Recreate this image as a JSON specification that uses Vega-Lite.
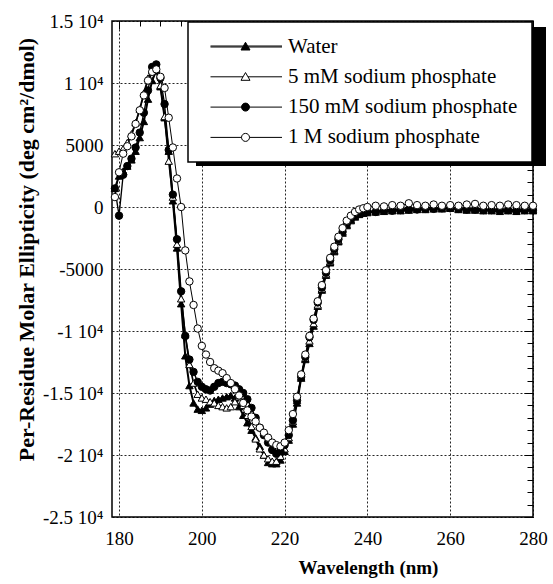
{
"$schema":"https://vega.github.io/schema/vega-lite/v6.json",
"autosize":{"type":"none"},
"padding":{"left":112,"top":21,"right":20,"bottom":67},
"width":421,"height":496,
"background":"white",
"config":{
 "view":{"stroke":"black","strokeWidth":1.5},
 "font":"Liberation Serif",
 "axis":{"labelFont":"Liberation Serif","titleFont":"Liberation Serif","labelColor":"black","titleColor":"black","domain":false,"tickColor":"black","tickWidth":1,"gridColor":"black","gridDash":[2,2],"gridWidth":1,"gridOpacity":0.85,"labelFlush":false,"labelOverlap":false},
 "legend":{"labelFont":"Liberation Serif","labelFontSize":21,"labelColor":"black","fillColor":"white","strokeColor":"black","strokeWidth":1.5,"padding":14,"symbolSize":100,"symbolStrokeWidth":1,"symbolStrokeColor":"black","symbolOffset":33,"labelOffset":32,"rowPadding":8.3,"labelLimit":400}
},
"data":{"values":[
{"s":"Water","x":179,"y":1500},{"s":"Water","x":180,"y":2500},{"s":"Water","x":181,"y":2900},{"s":"Water","x":182,"y":3300},{"s":"Water","x":183,"y":3800},{"s":"Water","x":184,"y":4500},{"s":"Water","x":185,"y":5600},{"s":"Water","x":186,"y":6900},{"s":"Water","x":187,"y":8700},{"s":"Water","x":188,"y":10200},{"s":"Water","x":189,"y":11000},{"s":"Water","x":190,"y":9700},{"s":"Water","x":191,"y":7200},{"s":"Water","x":192,"y":4500},{"s":"Water","x":193,"y":500},{"s":"Water","x":194,"y":-3300},{"s":"Water","x":195,"y":-7800},{"s":"Water","x":196,"y":-12000},{"s":"Water","x":197,"y":-14400},{"s":"Water","x":198,"y":-15800},{"s":"Water","x":199,"y":-16300},{"s":"Water","x":200,"y":-16400},{"s":"Water","x":201,"y":-16200},{"s":"Water","x":202,"y":-15900},{"s":"Water","x":203,"y":-15600},{"s":"Water","x":204,"y":-15500},{"s":"Water","x":205,"y":-15400},{"s":"Water","x":206,"y":-15300},{"s":"Water","x":207,"y":-15200},{"s":"Water","x":208,"y":-15400},{"s":"Water","x":209,"y":-16100},{"s":"Water","x":210,"y":-16800},{"s":"Water","x":211,"y":-17400},{"s":"Water","x":212,"y":-18000},{"s":"Water","x":213,"y":-18600},{"s":"Water","x":214,"y":-19300},{"s":"Water","x":215,"y":-20000},{"s":"Water","x":216,"y":-20600},{"s":"Water","x":217,"y":-20700},{"s":"Water","x":218,"y":-20700},{"s":"Water","x":219,"y":-20400},{"s":"Water","x":220,"y":-19700},{"s":"Water","x":221,"y":-18800},{"s":"Water","x":222,"y":-17500},{"s":"Water","x":223,"y":-15800},{"s":"Water","x":224,"y":-13800},{"s":"Water","x":225,"y":-12300},{"s":"Water","x":226,"y":-11000},{"s":"Water","x":227,"y":-9600},{"s":"Water","x":228,"y":-8000},{"s":"Water","x":229,"y":-6700},{"s":"Water","x":230,"y":-5500},{"s":"Water","x":231,"y":-4500},{"s":"Water","x":232,"y":-3600},{"s":"Water","x":233,"y":-2800},{"s":"Water","x":234,"y":-2100},{"s":"Water","x":235,"y":-1500},{"s":"Water","x":236,"y":-1100},{"s":"Water","x":237,"y":-800},{"s":"Water","x":238,"y":-600},{"s":"Water","x":239,"y":-500},{"s":"Water","x":240,"y":-450},{"s":"Water","x":242,"y":-400},{"s":"Water","x":244,"y":-350},{"s":"Water","x":246,"y":-300},{"s":"Water","x":248,"y":-300},{"s":"Water","x":250,"y":-250},{"s":"Water","x":252,"y":-200},{"s":"Water","x":254,"y":-200},{"s":"Water","x":256,"y":-150},{"s":"Water","x":258,"y":-150},{"s":"Water","x":260,"y":-100},{"s":"Water","x":262,"y":-200},{"s":"Water","x":264,"y":-250},{"s":"Water","x":266,"y":-250},{"s":"Water","x":268,"y":-300},{"s":"Water","x":270,"y":-300},{"s":"Water","x":272,"y":-350},{"s":"Water","x":274,"y":-300},{"s":"Water","x":276,"y":-350},{"s":"Water","x":278,"y":-300},{"s":"Water","x":280,"y":-300},
{"s":"5 mM","x":179,"y":4300},{"s":"5 mM","x":180,"y":4500},{"s":"5 mM","x":181,"y":4700},{"s":"5 mM","x":182,"y":5200},{"s":"5 mM","x":183,"y":5900},{"s":"5 mM","x":184,"y":6800},{"s":"5 mM","x":185,"y":7900},{"s":"5 mM","x":186,"y":9200},{"s":"5 mM","x":187,"y":10400},{"s":"5 mM","x":188,"y":11000},{"s":"5 mM","x":189,"y":11200},{"s":"5 mM","x":190,"y":9800},{"s":"5 mM","x":191,"y":7300},{"s":"5 mM","x":192,"y":3700},{"s":"5 mM","x":193,"y":800},{"s":"5 mM","x":194,"y":-3000},{"s":"5 mM","x":195,"y":-7400},{"s":"5 mM","x":196,"y":-10300},{"s":"5 mM","x":197,"y":-12700},{"s":"5 mM","x":198,"y":-14200},{"s":"5 mM","x":199,"y":-15100},{"s":"5 mM","x":200,"y":-15400},{"s":"5 mM","x":201,"y":-15500},{"s":"5 mM","x":202,"y":-15700},{"s":"5 mM","x":203,"y":-15800},{"s":"5 mM","x":204,"y":-16000},{"s":"5 mM","x":205,"y":-16100},{"s":"5 mM","x":206,"y":-16200},{"s":"5 mM","x":207,"y":-16100},{"s":"5 mM","x":208,"y":-15700},{"s":"5 mM","x":209,"y":-15300},{"s":"5 mM","x":210,"y":-16000},{"s":"5 mM","x":211,"y":-16800},{"s":"5 mM","x":212,"y":-17700},{"s":"5 mM","x":213,"y":-18700},{"s":"5 mM","x":214,"y":-19500},{"s":"5 mM","x":215,"y":-20000},{"s":"5 mM","x":216,"y":-20300},{"s":"5 mM","x":217,"y":-20500},{"s":"5 mM","x":218,"y":-20500},{"s":"5 mM","x":219,"y":-20100},{"s":"5 mM","x":220,"y":-19500},{"s":"5 mM","x":221,"y":-18600},{"s":"5 mM","x":222,"y":-17300},{"s":"5 mM","x":223,"y":-15600},{"s":"5 mM","x":224,"y":-13700},{"s":"5 mM","x":225,"y":-12200},{"s":"5 mM","x":226,"y":-10800},{"s":"5 mM","x":227,"y":-9400},{"s":"5 mM","x":228,"y":-7900},{"s":"5 mM","x":229,"y":-6600},{"s":"5 mM","x":230,"y":-5400},{"s":"5 mM","x":231,"y":-4400},{"s":"5 mM","x":232,"y":-3500},{"s":"5 mM","x":233,"y":-2700},{"s":"5 mM","x":234,"y":-2000},{"s":"5 mM","x":235,"y":-1400},{"s":"5 mM","x":236,"y":-1000},{"s":"5 mM","x":237,"y":-700},{"s":"5 mM","x":238,"y":-550},{"s":"5 mM","x":239,"y":-400},{"s":"5 mM","x":240,"y":-350},{"s":"5 mM","x":242,"y":-300},{"s":"5 mM","x":244,"y":-250},{"s":"5 mM","x":246,"y":-200},{"s":"5 mM","x":248,"y":-150},{"s":"5 mM","x":250,"y":-100},{"s":"5 mM","x":252,"y":-100},{"s":"5 mM","x":254,"y":-50},{"s":"5 mM","x":256,"y":-50},{"s":"5 mM","x":258,"y":-100},{"s":"5 mM","x":260,"y":-50},{"s":"5 mM","x":262,"y":-100},{"s":"5 mM","x":264,"y":-100},{"s":"5 mM","x":266,"y":-150},{"s":"5 mM","x":268,"y":-150},{"s":"5 mM","x":270,"y":-200},{"s":"5 mM","x":272,"y":-150},{"s":"5 mM","x":274,"y":-200},{"s":"5 mM","x":276,"y":-200},{"s":"5 mM","x":278,"y":-150},{"s":"5 mM","x":280,"y":-200},
{"s":"150 mM","x":179,"y":1500},{"s":"150 mM","x":180,"y":-700},{"s":"150 mM","x":181,"y":2600},{"s":"150 mM","x":182,"y":3300},{"s":"150 mM","x":183,"y":3900},{"s":"150 mM","x":184,"y":4800},{"s":"150 mM","x":185,"y":6000},{"s":"150 mM","x":186,"y":7600},{"s":"150 mM","x":187,"y":9400},{"s":"150 mM","x":188,"y":11300},{"s":"150 mM","x":189,"y":11500},{"s":"150 mM","x":190,"y":10400},{"s":"150 mM","x":191,"y":8300},{"s":"150 mM","x":192,"y":4600},{"s":"150 mM","x":193,"y":1000},{"s":"150 mM","x":194,"y":-2600},{"s":"150 mM","x":195,"y":-6800},{"s":"150 mM","x":196,"y":-10400},{"s":"150 mM","x":197,"y":-12300},{"s":"150 mM","x":198,"y":-13300},{"s":"150 mM","x":199,"y":-14100},{"s":"150 mM","x":200,"y":-14500},{"s":"150 mM","x":201,"y":-14700},{"s":"150 mM","x":202,"y":-14800},{"s":"150 mM","x":203,"y":-14500},{"s":"150 mM","x":204,"y":-14200},{"s":"150 mM","x":205,"y":-14100},{"s":"150 mM","x":206,"y":-14200},{"s":"150 mM","x":207,"y":-14300},{"s":"150 mM","x":208,"y":-14400},{"s":"150 mM","x":209,"y":-14700},{"s":"150 mM","x":210,"y":-15000},{"s":"150 mM","x":211,"y":-15500},{"s":"150 mM","x":212,"y":-16200},{"s":"150 mM","x":213,"y":-17000},{"s":"150 mM","x":214,"y":-17800},{"s":"150 mM","x":215,"y":-18400},{"s":"150 mM","x":216,"y":-19000},{"s":"150 mM","x":217,"y":-19600},{"s":"150 mM","x":218,"y":-19900},{"s":"150 mM","x":219,"y":-19700},{"s":"150 mM","x":220,"y":-19200},{"s":"150 mM","x":221,"y":-18400},{"s":"150 mM","x":222,"y":-17200},{"s":"150 mM","x":223,"y":-15600},{"s":"150 mM","x":224,"y":-13700},{"s":"150 mM","x":225,"y":-12100},{"s":"150 mM","x":226,"y":-10500},{"s":"150 mM","x":227,"y":-9100},{"s":"150 mM","x":228,"y":-7700},{"s":"150 mM","x":229,"y":-6500},{"s":"150 mM","x":230,"y":-5300},{"s":"150 mM","x":231,"y":-4300},{"s":"150 mM","x":232,"y":-3400},{"s":"150 mM","x":233,"y":-2600},{"s":"150 mM","x":234,"y":-2000},{"s":"150 mM","x":235,"y":-1400},{"s":"150 mM","x":236,"y":-1000},{"s":"150 mM","x":237,"y":-700},{"s":"150 mM","x":238,"y":-550},{"s":"150 mM","x":239,"y":-450},{"s":"150 mM","x":240,"y":-400},{"s":"150 mM","x":242,"y":-400},{"s":"150 mM","x":244,"y":-300},{"s":"150 mM","x":246,"y":-300},{"s":"150 mM","x":248,"y":-250},{"s":"150 mM","x":250,"y":-200},{"s":"150 mM","x":252,"y":-200},{"s":"150 mM","x":254,"y":-150},{"s":"150 mM","x":256,"y":-150},{"s":"150 mM","x":258,"y":-100},{"s":"150 mM","x":260,"y":-100},{"s":"150 mM","x":262,"y":-150},{"s":"150 mM","x":264,"y":-200},{"s":"150 mM","x":266,"y":-200},{"s":"150 mM","x":268,"y":-250},{"s":"150 mM","x":270,"y":-250},{"s":"150 mM","x":272,"y":-300},{"s":"150 mM","x":274,"y":-250},{"s":"150 mM","x":276,"y":-300},{"s":"150 mM","x":278,"y":-250},{"s":"150 mM","x":280,"y":-250},
{"s":"1 M","x":179,"y":800},{"s":"1 M","x":180,"y":2800},{"s":"1 M","x":181,"y":4300},{"s":"1 M","x":182,"y":4900},{"s":"1 M","x":183,"y":5700},{"s":"1 M","x":184,"y":6700},{"s":"1 M","x":185,"y":7800},{"s":"1 M","x":186,"y":9000},{"s":"1 M","x":187,"y":10200},{"s":"1 M","x":188,"y":10900},{"s":"1 M","x":189,"y":11100},{"s":"1 M","x":190,"y":10500},{"s":"1 M","x":191,"y":9600},{"s":"1 M","x":192,"y":7200},{"s":"1 M","x":193,"y":4800},{"s":"1 M","x":194,"y":2300},{"s":"1 M","x":195,"y":0},{"s":"1 M","x":196,"y":-3500},{"s":"1 M","x":197,"y":-6000},{"s":"1 M","x":198,"y":-7900},{"s":"1 M","x":199,"y":-9800},{"s":"1 M","x":200,"y":-11200},{"s":"1 M","x":201,"y":-11900},{"s":"1 M","x":202,"y":-12500},{"s":"1 M","x":203,"y":-13000},{"s":"1 M","x":204,"y":-13200},{"s":"1 M","x":205,"y":-13400},{"s":"1 M","x":206,"y":-13800},{"s":"1 M","x":207,"y":-14200},{"s":"1 M","x":208,"y":-14700},{"s":"1 M","x":209,"y":-15200},{"s":"1 M","x":210,"y":-15800},{"s":"1 M","x":211,"y":-16400},{"s":"1 M","x":212,"y":-16900},{"s":"1 M","x":213,"y":-17300},{"s":"1 M","x":214,"y":-17800},{"s":"1 M","x":215,"y":-18200},{"s":"1 M","x":216,"y":-18600},{"s":"1 M","x":217,"y":-19000},{"s":"1 M","x":218,"y":-19200},{"s":"1 M","x":219,"y":-19300},{"s":"1 M","x":220,"y":-19000},{"s":"1 M","x":221,"y":-18000},{"s":"1 M","x":222,"y":-16700},{"s":"1 M","x":223,"y":-15300},{"s":"1 M","x":224,"y":-13500},{"s":"1 M","x":225,"y":-11900},{"s":"1 M","x":226,"y":-10400},{"s":"1 M","x":227,"y":-9000},{"s":"1 M","x":228,"y":-7600},{"s":"1 M","x":229,"y":-6300},{"s":"1 M","x":230,"y":-5100},{"s":"1 M","x":231,"y":-4100},{"s":"1 M","x":232,"y":-3200},{"s":"1 M","x":233,"y":-2400},{"s":"1 M","x":234,"y":-1700},{"s":"1 M","x":235,"y":-1100},{"s":"1 M","x":236,"y":-700},{"s":"1 M","x":237,"y":-400},{"s":"1 M","x":238,"y":-200},{"s":"1 M","x":239,"y":-100},{"s":"1 M","x":240,"y":0},{"s":"1 M","x":242,"y":100},{"s":"1 M","x":244,"y":50},{"s":"1 M","x":246,"y":150},{"s":"1 M","x":248,"y":100},{"s":"1 M","x":250,"y":300},{"s":"1 M","x":252,"y":150},{"s":"1 M","x":254,"y":100},{"s":"1 M","x":256,"y":200},{"s":"1 M","x":258,"y":100},{"s":"1 M","x":260,"y":150},{"s":"1 M","x":262,"y":100},{"s":"1 M","x":264,"y":200},{"s":"1 M","x":266,"y":250},{"s":"1 M","x":268,"y":100},{"s":"1 M","x":270,"y":150},{"s":"1 M","x":272,"y":100},{"s":"1 M","x":274,"y":200},{"s":"1 M","x":276,"y":150},{"s":"1 M","x":278,"y":100},{"s":"1 M","x":280,"y":100}
]},
"layer":[
 {"mark":{"type":"line","color":"black"},
  "encoding":{
   "x":{"field":"x","type":"quantitative","scale":{"domain":[178.3,280],"nice":false,"zero":false},
        "axis":{"values":[180,200,220,240,260,280],"ticks":false,"grid":true,"labelFontSize":19,"labelPadding":12,"title":"Wavelength (nm)","titleFontSize":19,"titleFontWeight":"bold","titleX":256,"titleAlign":"center","titleY":56,"titleBaseline":"alphabetic"}},
   "y":{"field":"y","type":"quantitative","scale":{"domain":[-25000,15000],"nice":false,"zero":false},
        "axis":{"values":[-25000,-20000,-15000,-10000,-5000,0,5000,10000,15000],"ticks":false,"grid":true,"labelFontSize":19,"labelPadding":9,
          "labelExpr":"datum.value == 15000 ? '1.5 10⁴' : datum.value == 10000 ? '1 10⁴' : datum.value == -10000 ? '-1 10⁴' : datum.value == -15000 ? '-1.5 10⁴' : datum.value == -20000 ? '-2 10⁴' : datum.value == -25000 ? '-2.5 10⁴' : datum.value == 5000 ? '5000' : datum.value == -5000 ? '-5000' : '0'",
          "title":"Per-Residue Molar Ellipticity (deg cm²/dmol)","titleFontSize":22,"titleFontWeight":"bold","titleAngle":-90,"titleX":-79,"titleY":228,"titleBaseline":"alphabetic","titleAlign":"center"}},
   "strokeWidth":{"field":"s","type":"nominal","scale":{"domain":["Water","5 mM","150 mM","1 M"],"range":[2,1,1.3,1]},"legend":null}
  }},
 {"mark":{"type":"point","filled":true,"stroke":"black","strokeWidth":1,"size":55,"opacity":1},
  "encoding":{
   "x":{"field":"x","type":"quantitative","axis":{"values":[180,200,220,240,260,280],"labels":false,"grid":false,"tickSize":-8,"title":null}},
   "y":{"field":"y","type":"quantitative","axis":{"values":[-25000,-20000,-15000,-10000,-5000,0,5000,10000,15000],"labels":false,"grid":false,"tickSize":-9,"title":null}},
   "shape":{"field":"s","type":"nominal","scale":{"domain":["Water","5 mM","150 mM","1 M"],"range":["triangle-up","triangle-up","circle","circle"]},"legend":null},
   "fill":{"field":"s","type":"nominal","scale":{"domain":["Water","5 mM","150 mM","1 M"],"range":["black","white","black","white"]},"legend":null}
  }},
 {"transform":[{"filter":"datum.x < 0"}],
  "mark":{"type":"point","filled":true,"stroke":"black","strokeWidth":1,"opacity":1},
  "encoding":{
   "x":{"field":"x","type":"quantitative","axis":{"values":[180,185,190,195,200,205,210,215,220,225,230,235,240,245,250,255,260,265,270,275,280],"labels":false,"grid":false,"tickSize":-4,"title":null}},
   "y":{"field":"y","type":"quantitative","axis":{"values":[-25000,-24000,-23000,-22000,-21000,-20000,-19000,-18000,-17000,-16000,-15000,-14000,-13000,-12000,-11000,-10000,-9000,-8000,-7000,-6000,-5000,-4000,-3000,-2000,-1000,0,1000,2000,3000,4000,5000,6000,7000,8000,9000,10000,11000,12000,13000,14000,15000],"labels":false,"grid":false,"tickSize":-5,"title":null}},
   "shape":{"field":"s","type":"nominal","scale":{"domain":["Water","5 mM","150 mM","1 M"],"range":[
     "M-7,-0.1H-0.5M0.5,-0.1H7.3M-7,0.1H-0.5M0.5,0.1H7.3M0,-0.85L0.9,0.7L-0.9,0.7Z",
     "M-7,0H-0.5M0.5,0H7.3M0,-0.85L0.9,0.7L-0.9,0.7Z",
     "M-7,0H-0.8M0.8,0H7.3M0.8,0A0.8,0.8 0 1,1 -0.8,0A0.8,0.8 0 1,1 0.8,0Z",
     "M-7,0H-0.8M0.8,0H7.3M0.8,0A0.8,0.8 0 1,1 -0.8,0A0.8,0.8 0 1,1 0.8,0Z"]},
     "legend":{"orient":"none","legendX":76,"legendY":1,"title":null,"zindex":2,"labelExpr":"datum.label == 'Water' ? 'Water' : datum.label + ' sodium phosphate\u00a0\u00a0'","encoding":{"symbols":{"stroke":{"value":"black"},"strokeWidth":{"value":1}}}}},
   "fill":{"field":"s","type":"nominal","scale":{"domain":["Water","5 mM","150 mM","1 M"],"range":["black","white","black","white"]},
     "legend":{"orient":"none","legendX":76,"legendY":1,"title":null,"zindex":2,"labelExpr":"datum.label == 'Water' ? 'Water' : datum.label + ' sodium phosphate\u00a0\u00a0'","encoding":{"symbols":{"stroke":{"value":"black"},"strokeWidth":{"value":1}}}}}
  }},
 {"transform":[{"filter":"datum.x < 0"}],
  "mark":{"type":"point"},
  "encoding":{
   "x":{"field":"x","type":"quantitative","axis":{"orient":"top","values":[180,185,190,195,200,205,210,215,220,225,230,235,240,245,250,255,260,265,270,275,280],"labels":false,"grid":false,"tickSize":-5,"title":null}},
   "y":{"field":"y","type":"quantitative","axis":{"orient":"right","values":[-25000,-24000,-23000,-22000,-21000,-20000,-19000,-18000,-17000,-16000,-15000,-14000,-13000,-12000,-11000,-10000,-9000,-8000,-7000,-6000,-5000,-4000,-3000,-2000,-1000,0,1000,2000,3000,4000,5000,6000,7000,8000,9000,10000,11000,12000,13000,14000,15000],"labels":false,"grid":false,"tickSize":-6,"title":null}},
   "strokeDash":{"field":"s","type":"nominal","scale":{"domain":["shadow"],"range":[[1,0]]},
     "legend":{"orient":"none","legendX":84,"legendY":-99.5,"title":null,"zindex":0,"padding":0,"fillColor":"transparent","strokeColor":"transparent","strokeWidth":0,"labelExpr":"''","labelFontSize":1,"labelOffset":0,"symbolOffset":0,
       "encoding":{"symbols":{"shape":{"value":"M-1,-0.397H1V0.397H-1Z"},"size":{"value":122500},"fill":{"value":"black"},"fillOpacity":{"value":1},"stroke":{"value":"black"},"strokeWidth":{"value":0},"opacity":{"value":1}}}}}
  }}
],
"resolve":{"scale":{"shape":"independent","fill":"independent"},"axis":{"x":"independent","y":"independent"}}
}
